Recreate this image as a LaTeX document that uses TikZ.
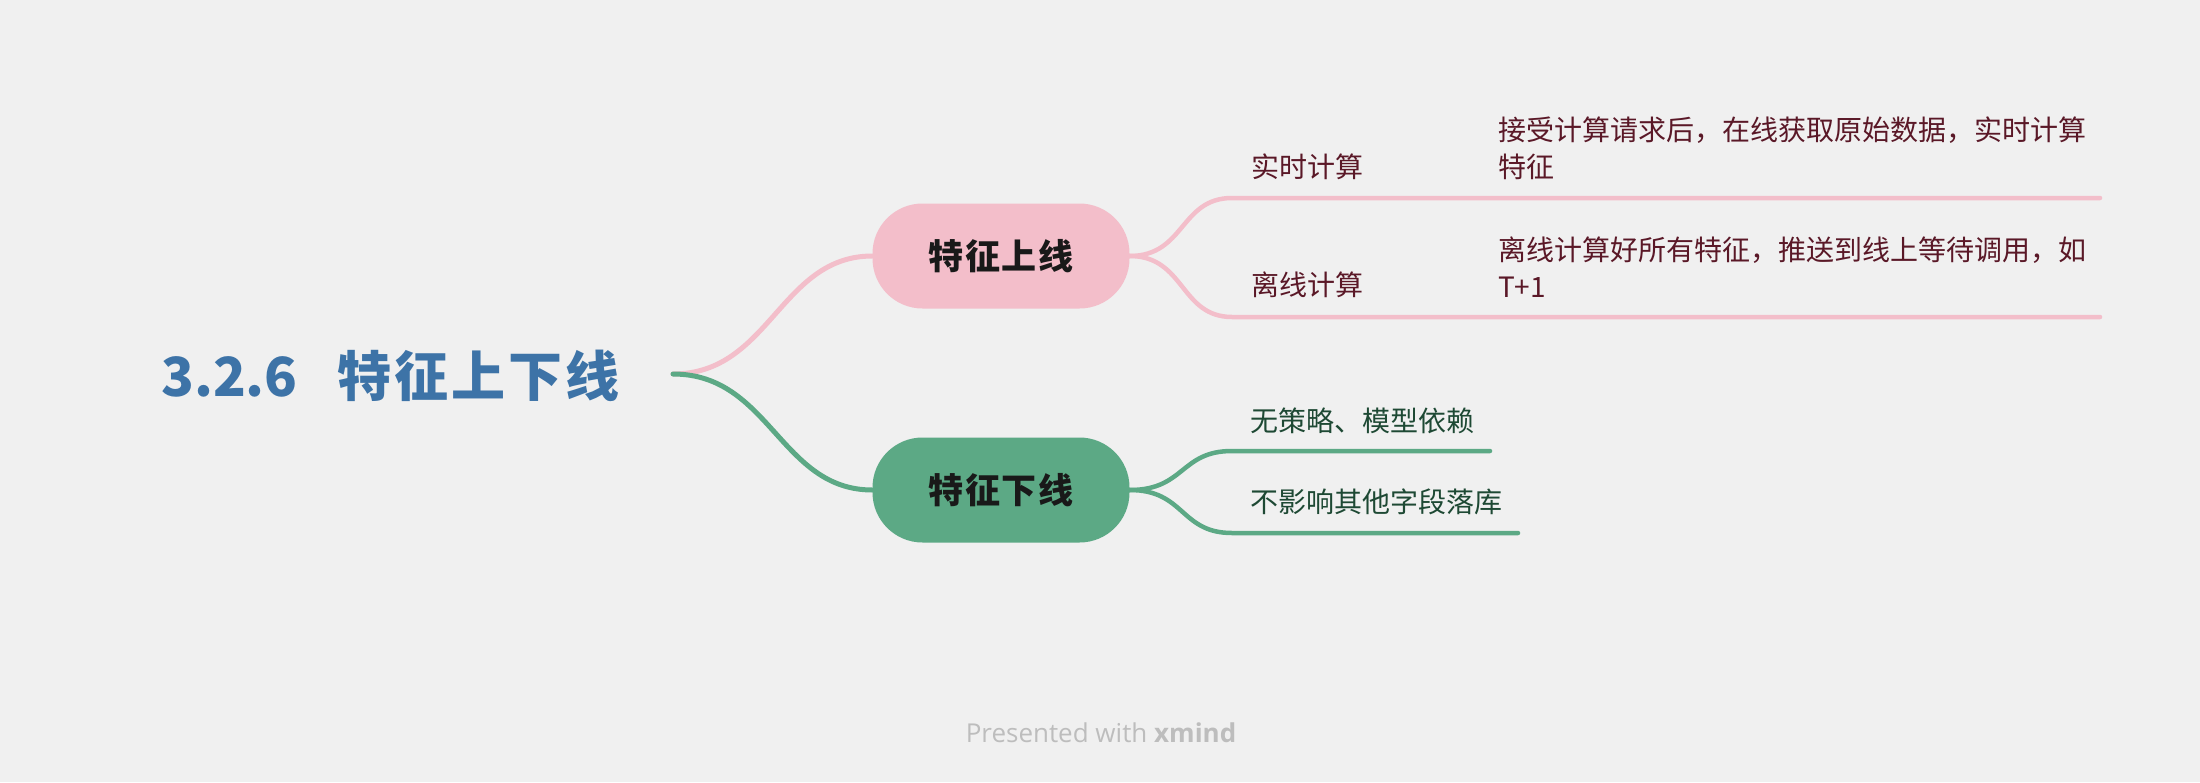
\documentclass[tikz,border=0pt]{standalone}
\usepackage{fontspec}
\newfontfamily\cjk{Noto Sans CJK SC}
\newfontfamily\wmfont{Open Sans}
\definecolor{bg}{HTML}{F0F0F0}
\definecolor{titleblue}{HTML}{3D73A7}
\definecolor{rosefill}{HTML}{F3BECA}
\definecolor{leaffill}{HTML}{5CA985}
\definecolor{rosetext}{HTML}{5A1827}
\definecolor{leaftext}{HTML}{1E4934}
\definecolor{marktext}{HTML}{BDBDBD}
\begin{document}
\begin{tikzpicture}[x=1pt,y=-1pt,
  roottext/.style={inner sep=0pt,anchor=west,text=titleblue,
    font=\cjk\bfseries\fontsize{54}{60}\selectfont},
  topicbox/.style={rounded corners=50pt,minimum width=257pt,minimum height=105pt,
    inner sep=0pt,text=black!90,font=\cjk\bfseries\fontsize{35}{40}\selectfont},
  leaftxt/.style={inner sep=0pt,anchor=west,font=\cjk\fontsize{28}{37}\selectfont,align=left},
  link/.style={line width=5pt,line cap=round},
  twig/.style={line width=4.5pt,line cap=round}
]
\fill[bg] (0,0) rectangle (2200,782);
\useasboundingbox (0,0) rectangle (2200,782);

% central title and its outlet
\node[roottext] (root) at (161,376)
  {3.2.6\hspace{40pt}特\kern3pt 征\kern3pt 上\kern3pt 下\kern3pt 线};
\coordinate (rootout) at (673,374);

% main topics
\node[topicbox,fill=rosefill] (up) at (1001,256) {特\kern1.5pt 征\kern1.5pt 上\kern1.5pt 线};
\node[topicbox,fill=leaffill] (down) at (1001,490) {特\kern1.5pt 征\kern1.5pt 下\kern1.5pt 线};

\draw[link,rosefill] (rootout) .. controls (770,374) and (780,256) .. (up.west);
\draw[link,leaffill] (rootout) .. controls (770,374) and (780,490) .. (down.west);

% underline end points of the subtopics
\coordinate (u1s) at (1232,198); \coordinate (u1e) at (2100,198);
\coordinate (u2s) at (1232,317); \coordinate (u2e) at (2100,317);
\coordinate (g1s) at (1232,451); \coordinate (g1e) at (1490,451);
\coordinate (g2s) at (1232,533); \coordinate (g2e) at (1518,533);

\draw[twig,rosefill] (up.east) .. controls (1185,256) and (1180,198) .. (u1s) -- (u1e);
\draw[twig,rosefill] (up.east) .. controls (1185,256) and (1180,317) .. (u2s) -- (u2e);
\draw[twig,leaffill] (down.east) .. controls (1185,490) and (1180,451) .. (g1s) -- (g1e);
\draw[twig,leaffill] (down.east) .. controls (1185,490) and (1180,533) .. (g2s) -- (g2e);

% subtopic labels
\node[leaftxt,text=rosetext] (rt) at (1251,167) {实时计算};
\node[leaftxt,text=rosetext] (rtd) at (1498,148) {接受计算请求后，在线获取原始数据，实时计算\\特征};
\node[leaftxt,text=rosetext] (ol) at (1251,285) {离线计算};
\node[leaftxt,text=rosetext] (old) at (1498,267) {离线计算好所有特征，推送到线上等待调用，如\\T+1};
\node[leaftxt,text=leaftext] (ns) at (1250,421) {无策略、模型依赖};
\node[leaftxt,text=leaftext] (nf) at (1250,502) {不影响其他字段落库};

% footer
\node[inner sep=0pt,text=marktext,font=\wmfont\fontsize{26}{30}\selectfont] (mark) at (1101,733)
  {Presented with \textbf{xmind}};
\end{tikzpicture}
\end{document}
